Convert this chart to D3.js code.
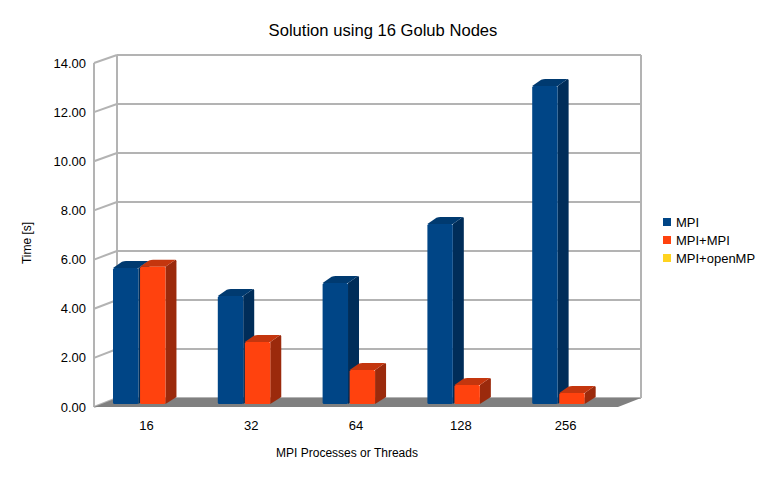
<!DOCTYPE html>
<html><head><meta charset="utf-8">
<script src="https://cdn.jsdelivr.net/npm/d3@7/dist/d3.min.js"></script>
<style>body{margin:0;background:#fff}svg{display:block;font-family:"Liberation Sans",Arial,sans-serif}</style>
</head><body>
<svg id="c" width="768" height="480"></svg>
<script>
const categories = ["16","32","64","128","256"];
const seriesNames = ["MPI","MPI+MPI","MPI+openMP"];
const mpi = [5.55, 4.41, 4.94, 7.35, 12.98];
const mpiMpi = [5.60, 2.53, 1.39, 0.78, 0.45];
const mpiOpenMP = [null, null, null, null, null];
const yTicks = [0,2,4,6,8,10,12,14];

const seriesValues = [mpi, mpiMpi, mpiOpenMP];
const colors = {front:["#004586","#ff420e","#ffd320"], side:["#002d59","#9b2a0c","#b39414"], top:["#003a70","#c4360e","#d9b31b"]};

const svg = d3.select("#c");
const DX = 23, DY = -9;
const bdx = 11, bdy = -7;
const xFront = d3.scaleBand().domain(categories).range([94, 618]);
const x1 = d3.scaleBand().domain(seriesNames).range([19, 98.5]).paddingInner(0.06);
const yF = d3.scaleLinear().domain([0,14]).range([407, 63]);
const yB = d3.scaleLinear().domain([0,14]).range([398, 55]);
const yBar = d3.scaleLinear().domain([0,14]).range([404, 61]);
const gridC = "#b3b3b3";

svg.append("g").selectAll("line").data(yTicks).join("line")
  .attr("x1", 94+DX).attr("x2", 618+DX).attr("y1", d=>yB(d)).attr("y2", d=>yB(d))
  .attr("stroke", gridC).attr("stroke-width", 2);
svg.append("g").selectAll("line").data(yTicks).join("line")
  .attr("x1", 94).attr("x2", 94+DX).attr("y1", d=>yF(d)).attr("y2", d=>yB(d))
  .attr("stroke", gridC).attr("stroke-width", 2);
const edges = [[94,yF(14),94,yF(0)],[94+DX,yB(14),94+DX,yB(0)],[618+DX,yB(14),618+DX,yB(0)]];
svg.append("g").selectAll("line").data(edges).join("line")
  .attr("x1",d=>d[0]).attr("y1",d=>d[1]).attr("x2",d=>d[2]).attr("y2",d=>d[3])
  .attr("stroke", gridC).attr("stroke-width", 2);
svg.append("polygon")
  .attr("points", [[94,yF(0)],[618,yF(0)],[618+DX,yB(0)],[94+DX,yB(0)]].map(p=>p.join(",")).join(" "))
  .attr("fill", "#808080");

svg.append("g").selectAll("text").data(yTicks).join("text")
  .attr("x", 86).attr("y", d=>yF(d)).attr("dy","0.35em").attr("text-anchor","end")
  .attr("font-size", 13).attr("fill","#000").text(d=>d.toFixed(2));

const bars = [];
categories.forEach((c,i)=>{
  seriesNames.forEach((s,j)=>{
    const v = seriesValues[j][i];
    if (v == null) return;
    bars.push({c, s, j, v});
  });
});
const g = svg.append("g");
bars.forEach(b=>{
  const x0 = xFront(b.c) + x1(b.s), w = x1.bandwidth();
  const yt = yBar(b.v), yb = yBar(0);
  g.append("path").attr("d", `M${x0+w},${yt} L${x0+w+bdx-1},${yt+bdy} Q${x0+w+bdx},${yt+bdy} ${x0+w+bdx},${yt+bdy+1.5} L${x0+w+bdx},${yb+bdy} L${x0+w},${yb} Z`)
    .attr("fill", colors.side[b.j]);
  g.append("path").attr("d", `M${x0},${yt} L${x0+bdx-2},${yt+bdy+0.8} Q${x0+bdx},${yt+bdy} ${x0+bdx+2},${yt+bdy} L${x0+w+bdx-1},${yt+bdy} L${x0+w},${yt} Z`)
    .attr("fill", colors.top[b.j]);
  g.append("rect").attr("x", x0).attr("y", yt).attr("width", w).attr("height", yb-yt)
    .attr("rx", 1.5).attr("fill", colors.front[b.j]);
});

svg.append("g").selectAll("text").data(categories).join("text")
  .attr("x", d=>xFront(d)+xFront.bandwidth()/2).attr("y", 425).attr("dy","0.35em")
  .attr("text-anchor","middle").attr("font-size", 13).text(d=>d);

svg.append("text").attr("x", 383).attr("y", 30).attr("dy","0.35em").attr("text-anchor","middle")
  .attr("font-size", 16.6).text("Solution using 16 Golub Nodes");
svg.append("text").attr("x", 347).attr("y", 453).attr("dy","0.35em").attr("text-anchor","middle")
  .attr("font-size", 12).text("MPI Processes or Threads");
svg.append("text").attr("transform","translate(27,243) rotate(-90)").attr("dy","0.35em")
  .attr("text-anchor","middle").attr("font-size", 12).text("Time [s]");

const leg = svg.append("g").selectAll("g").data(seriesNames).join("g")
  .attr("transform", (d,i)=>`translate(663,${222 + i*18})`);
leg.append("rect").attr("x",0).attr("y",-4).attr("width",8).attr("height",8).attr("fill",(d,i)=>colors.front[i]);
leg.append("text").attr("x",13).attr("y",0).attr("dy","0.35em").attr("font-size",13).text(d=>d);
</script>
</body></html>
